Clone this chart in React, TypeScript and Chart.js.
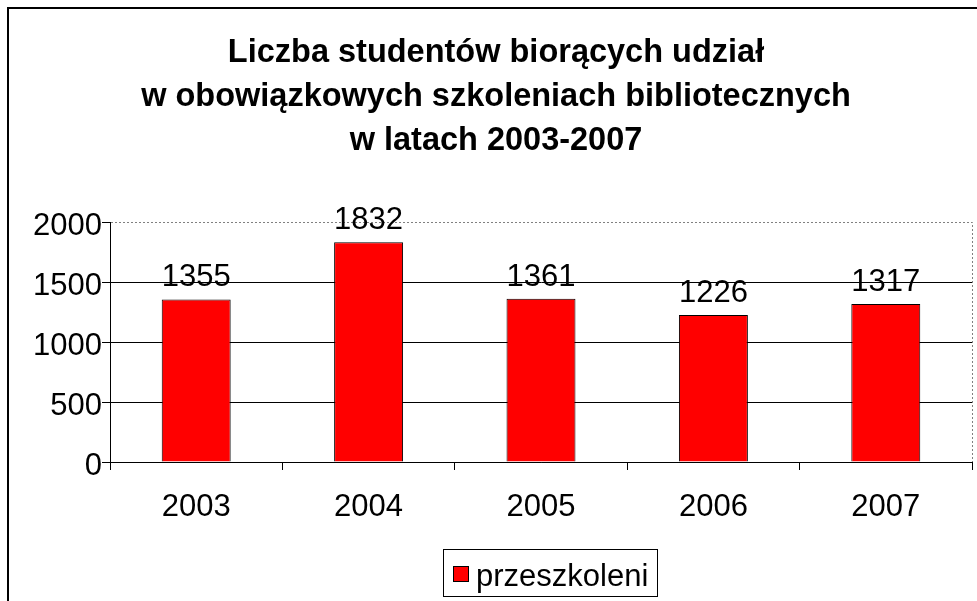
import React, { useEffect, useRef } from "react";
import { Chart, registerables } from "chart.js";

Chart.register(...registerables);

const TITLE_LINES = [
  "Liczba studentów biorących udział",
  "w obowiązkowych szkoleniach bibliotecznych",
  "w latach 2003-2007",
];
const CATEGORIES = ["2003", "2004", "2005", "2006", "2007"];
const SERIES_LABEL = "przeszkoleni";
const SERIES_VALUES = [1355, 1832, 1361, 1226, 1317];
const Y_MIN = 0;
const Y_MAX = 2000;
const Y_STEP = 500;

const FONT = "'Liberation Sans', Arial, sans-serif";
const BAR_COLOR = "#FF0000";
const TITLE_CX = 496;

const framePlugin = {
  id: "frame",
  beforeDraw(chart: any) {
    const ctx: CanvasRenderingContext2D = chart.ctx;
    ctx.save();
    ctx.fillStyle = "#fff";
    ctx.fillRect(0, 0, chart.width, chart.height);
    ctx.strokeStyle = "#000";
    ctx.lineWidth = 2;
    ctx.beginPath();
    ctx.moveTo(8, chart.height + 5);
    ctx.lineTo(8, 8);
    ctx.lineTo(chart.width + 5, 8);
    ctx.stroke();
    ctx.restore();
  },
};

const decorPlugin = {
  id: "decor",
  afterDraw(chart: any) {
    const ctx: CanvasRenderingContext2D = chart.ctx;
    const a = chart.chartArea;
    ctx.save();

    // keep the strip right of the plot area clean
    ctx.fillStyle = "#fff";
    ctx.fillRect(Math.round(a.right) + 2, 10, chart.width, chart.height);

    ctx.strokeStyle = "#808080";
    ctx.lineWidth = 1;
    ctx.setLineDash([2, 2]);
    const t = Math.round(a.top) + 0.5;
    const r = Math.round(a.right) + 0.5;
    ctx.beginPath();
    ctx.moveTo(Math.round(a.left) + 1, t);
    ctx.lineTo(r, t);
    ctx.lineTo(r, Math.round(a.bottom));
    ctx.stroke();
    ctx.setLineDash([]);

    const meta = chart.getDatasetMeta(0);
    const values = chart.data.datasets[0].data as number[];
    ctx.font = `31px ${FONT}`;
    ctx.fillStyle = "#000";
    ctx.textAlign = "center";
    ctx.textBaseline = "alphabetic";
    meta.data.forEach((bar: any, i: number) => {
      ctx.fillText(String(values[i]), bar.x, bar.y - 13);
    });

    ctx.font = `bold 32.5px ${FONT}`;
    TITLE_LINES.forEach((line, i) => {
      ctx.fillText(line, TITLE_CX, 62 + i * 44);
    });

    const label = chart.data.datasets[0].label as string;
    ctx.font = `31px ${FONT}`;
    const tw = ctx.measureText(label).width;
    const padL = 10, sw = 16, gap = 7, padR = 9;
    const boxW = Math.round(padL + sw + gap + tw + padR);
    const boxH = 47;
    const cx = (a.left + a.right) / 2 + 9;
    const bx = Math.round(cx - boxW / 2);
    const by = Math.round(a.bottom) + 87;
    ctx.fillStyle = "#fff";
    ctx.fillRect(bx, by, boxW, boxH);
    ctx.strokeStyle = "#000";
    ctx.strokeRect(bx + 0.5, by + 0.5, boxW, boxH);
    const sx = bx + padL;
    const sy = by + 17;
    ctx.fillStyle = BAR_COLOR;
    ctx.fillRect(sx, sy, sw, sw);
    ctx.strokeStyle = "#000";
    ctx.strokeRect(sx + 0.5, sy + 0.5, sw - 1, sw - 1);
    ctx.fillStyle = "#000";
    ctx.textAlign = "left";
    ctx.fillText(label, sx + sw + gap, by + 37);

    ctx.restore();
  },
};

export default function App() {
  const ref = useRef<HTMLCanvasElement>(null);
  useEffect(() => {
    document.documentElement.style.overflow = "hidden";
    document.body.style.overflow = "hidden";
    if (!ref.current) return;
    const chart = new Chart(ref.current, {
      type: "bar",
      data: {
        labels: CATEGORIES,
        datasets: [
          {
            label: SERIES_LABEL,
            data: SERIES_VALUES,
            backgroundColor: BAR_COLOR,
            borderColor: "#000",
            borderWidth: 1,
            barPercentage: 0.4,
            categoryPercentage: 1,
          },
        ],
      },
      options: {
        animation: false,
        responsive: false,
        events: [],
        layout: { padding: { left: 0, right: 5, top: 222, bottom: 79 } },
        plugins: {
          legend: { display: false },
          title: { display: false },
          tooltip: { enabled: false },
        },
        scales: {
          x: {
            grid: {
              display: true,
              drawOnChartArea: false,
              offset: true,
              color: "#000",
              tickColor: "#000",
              tickLength: 8,
            },
            border: { display: true, color: "#000" },
            ticks: {
              font: { family: FONT, size: 31 },
              color: "#000",
              padding: 19,
              maxRotation: 0,
              autoSkip: false,
            },
            afterFit(s: any) {
              s.height = 60;
            },
          },
          y: {
            min: Y_MIN,
            max: Y_MAX,
            ticks: {
              stepSize: Y_STEP,
              font: { family: FONT, size: 31 },
              color: "#000",
              padding: 0,
              labelOffset: 4,
              callback: (v: any) => String(v),
            },
            grid: {
              color: (c: any) =>
                c.tick && c.tick.value === Y_MAX ? "rgba(0,0,0,0)" : "#000",
              tickColor: "#000",
              tickLength: 8,
            },
            border: { display: true, color: "#000" },
            afterFit(s: any) {
              s.width = 110;
            },
          },
        },
      },
      plugins: [framePlugin, decorPlugin],
    });
    return () => chart.destroy();
  }, []);

  return (
    <canvas
      ref={ref}
      width={977}
      height={601}
      style={{ position: "fixed", left: 0, top: 0, width: 977, height: 601, display: "block" }}
    />
  );
}
